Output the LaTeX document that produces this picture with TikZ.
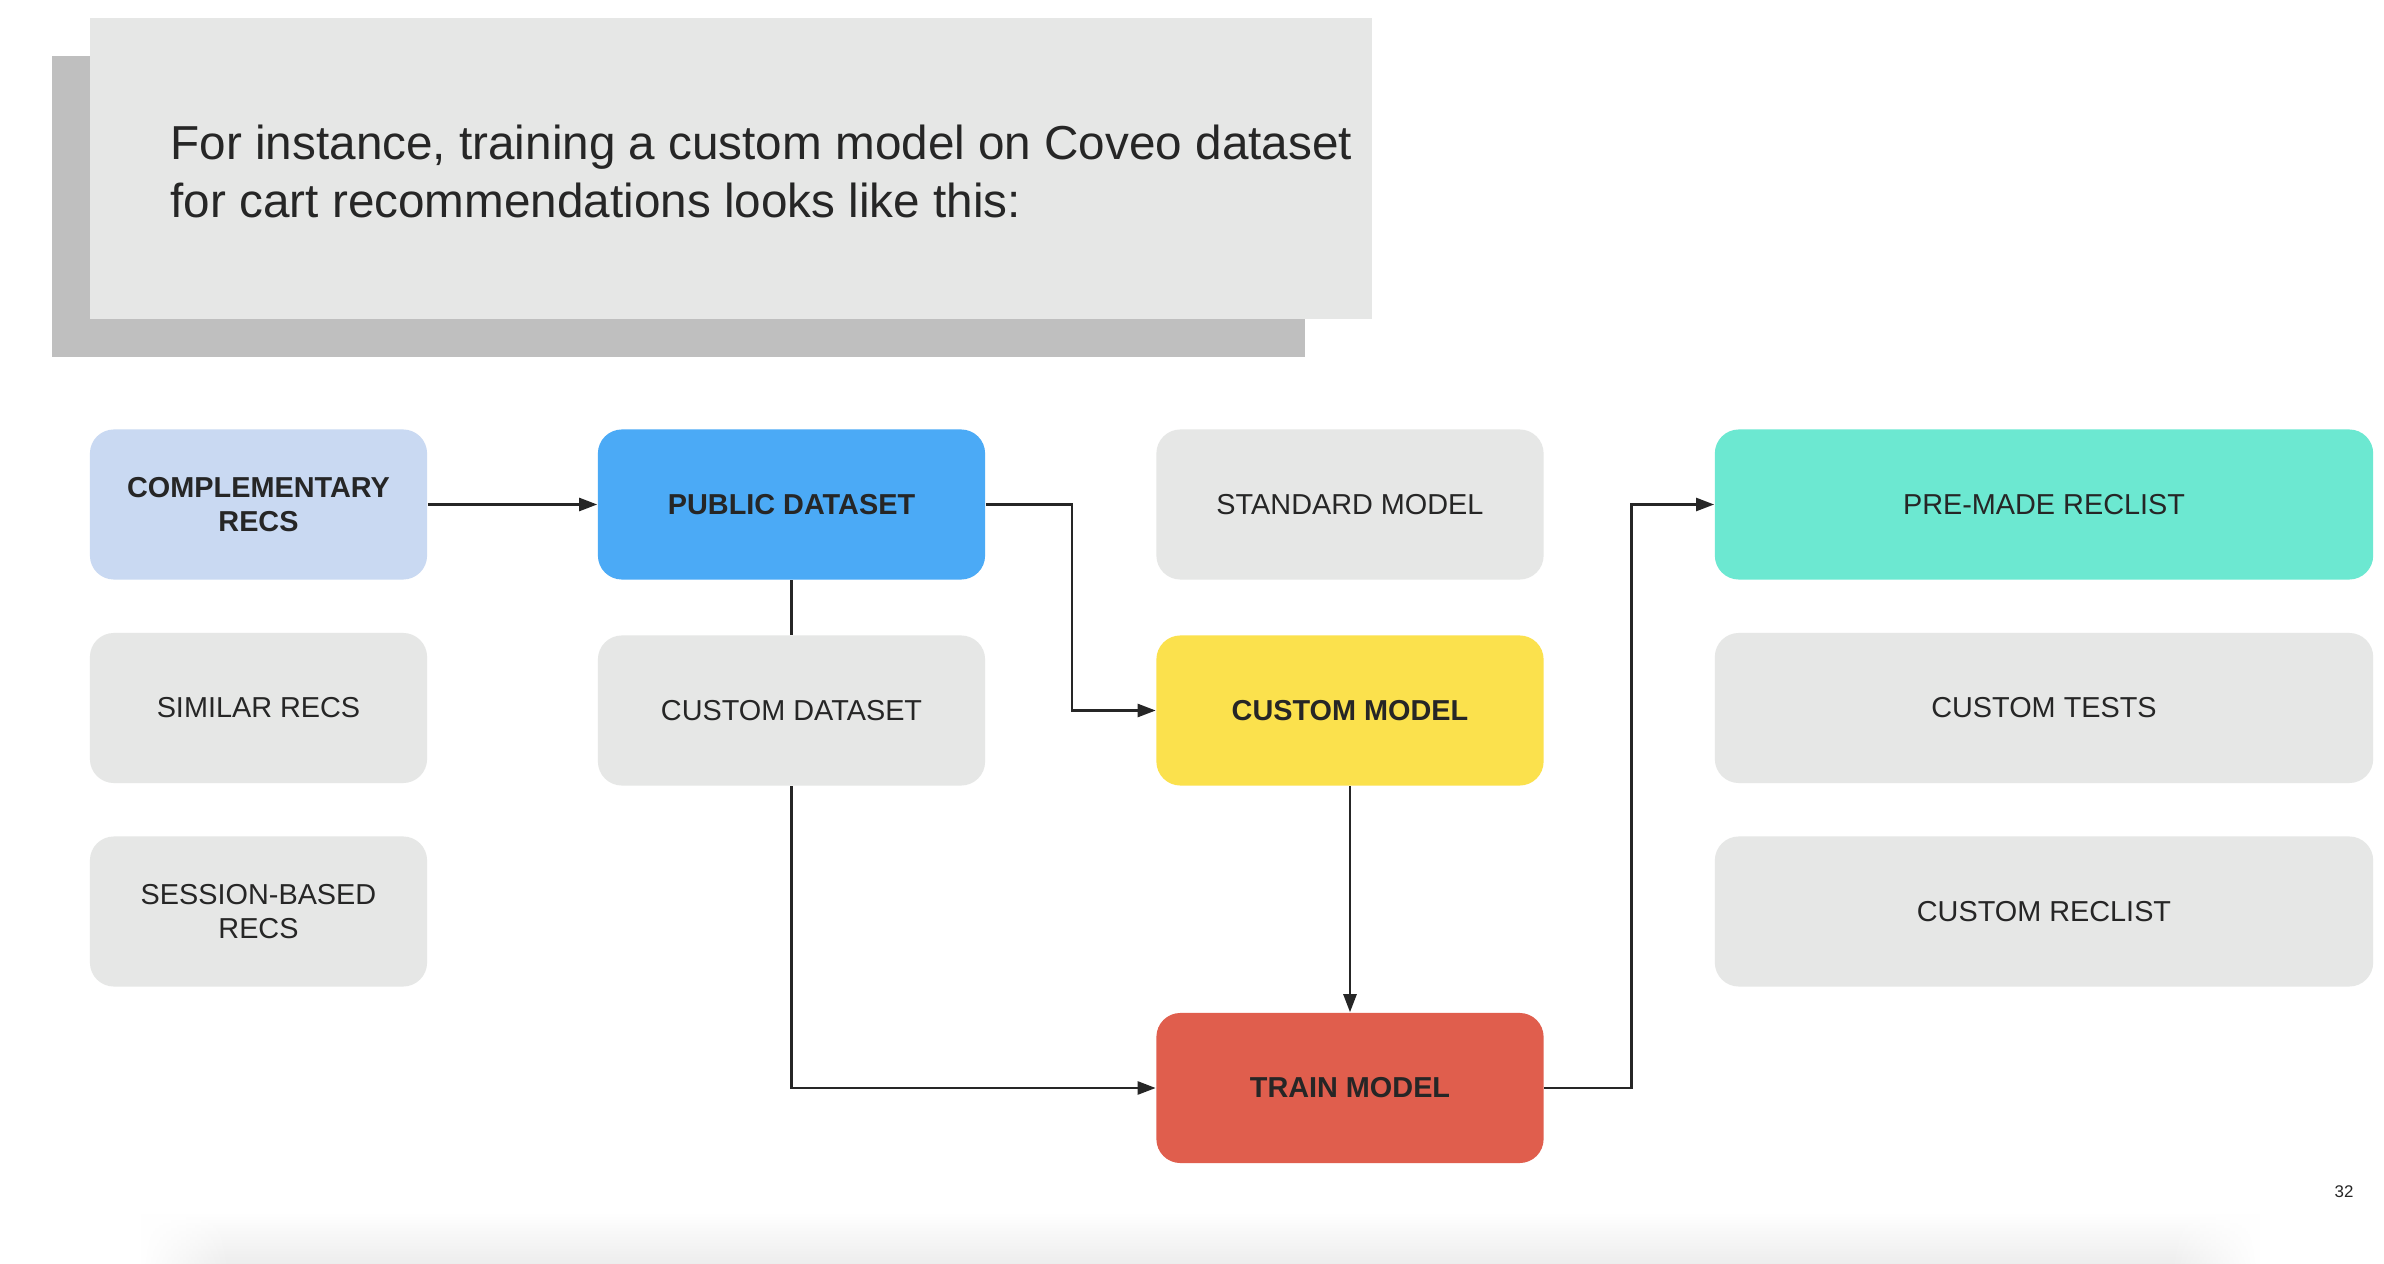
\documentclass[tikz,border=0pt]{standalone}
\usepackage{fontspec}
\setmainfont{Liberation Sans}
\usepackage{xcolor}
\usepackage{tikz}
\usetikzlibrary{arrows.meta, fadings}
\definecolor{inkgray}{HTML}{262626}
\definecolor{slidegray}{HTML}{E6E7E6}
\definecolor{dropgray}{HTML}{BFBFBF}
\definecolor{floorgray}{HTML}{EDEDED}
\definecolor{complblue}{HTML}{C9D9F2}
\definecolor{publicblue}{HTML}{4BAAF6}
\definecolor{modelyellow}{HTML}{FBE14D}
\definecolor{trainred}{HTML}{E05E4D}
\definecolor{reclistteal}{HTML}{6CE8D1}
\tikzfading[name=fade in, left color=transparent!100, right color=transparent!0]
\tikzfading[name=fade out, left color=transparent!0, right color=transparent!100]
\tikzset{
    card/.style={rounded corners=0.24cm, fill=slidegray, text=inkgray, inner sep=0pt,
        minimum height=1.5cm, align=center, font=\fontsize{8.2}{9.8}\selectfont},
    narrowcard/.style={card, minimum width=3.37cm},
    midcard/.style={card, minimum width=3.87cm},
    widecard/.style={card, minimum width=6.58cm},
    boldcard/.style={font=\fontsize{8.2}{9.8}\selectfont\bfseries},
    link/.style={draw=inkgray, line width=0.7pt},
    arrowlink/.style={link, -{Triangle[length=0.18cm, width=0.13cm]}}
}

\begin{document}
\begin{tikzpicture}[x=0.01cm, y=-0.01cm]
        \useasboundingbox (0,0) rectangle (2384,1264);
        \fill[white] (0,0) rectangle (2384,1264);

        \fill[dropgray] (52,56) rectangle (1305,357);
        \fill[slidegray] (90,18) rectangle (1372,319);
        \node[anchor=north west, inner sep=0pt, align=left, text=inkgray,
            font=\fontsize{13.55}{16.4}\selectfont] (title) at (170,124.5)
            {For instance, training a custom model on Coveo dataset\\for cart recommendations looks like this:};

        \shade[top color=white, bottom color=floorgray] (228,1212) rectangle (2172,1264);
        \shade[top color=white, bottom color=floorgray, path fading=fade in] (140,1212) rectangle (230,1264);
        \shade[top color=white, bottom color=floorgray, path fading=fade out] (2170,1212) rectangle (2260,1264);

        \node[narrowcard, boldcard, fill=complblue] (compl) at (258.5,504.5) {COMPLEMENTARY\\RECS};
        \node[narrowcard] (similar) at (258.5,708) {SIMILAR RECS};
        \node[narrowcard] (session) at (258.5,911.5) {SESSION-BASED\\RECS};

        \node[midcard, boldcard, fill=publicblue] (public) at (791.5,504.5) {PUBLIC DATASET};
        \node[midcard] (cdata) at (791.5,710.5) {CUSTOM DATASET};

        \node[midcard] (stdmodel) at (1350,504.5) {STANDARD MODEL};
        \node[midcard, boldcard, fill=modelyellow] (cmodel) at (1350,710.5) {CUSTOM MODEL};
        \node[midcard, boldcard, fill=trainred] (train) at (1350,1088) {TRAIN MODEL};

        \node[widecard, fill=reclistteal] (premade) at (2044,504.5) {PRE-MADE RECLIST};
        \node[widecard] (ctests) at (2044,708) {CUSTOM TESTS};
        \node[widecard] (creclist) at (2044,911.5) {CUSTOM RECLIST};

        \draw[arrowlink] (compl) -- (public);
        \draw[link] (public) -- (cdata);
        \draw[arrowlink] (public.east) -- ++(86,0) |- (cmodel.west);
        \draw[arrowlink] (cdata.south) |- (train.west);
        \draw[arrowlink] (cmodel) -- (train);
        \draw[arrowlink] (train.east) -- ++(87,0) |- (premade.west);

        \node[text=inkgray, inner sep=0pt, font=\fontsize{4.8}{6}\selectfont] (pagenum) at (2344,1192) {32};
    \end{tikzpicture}
\end{document}
